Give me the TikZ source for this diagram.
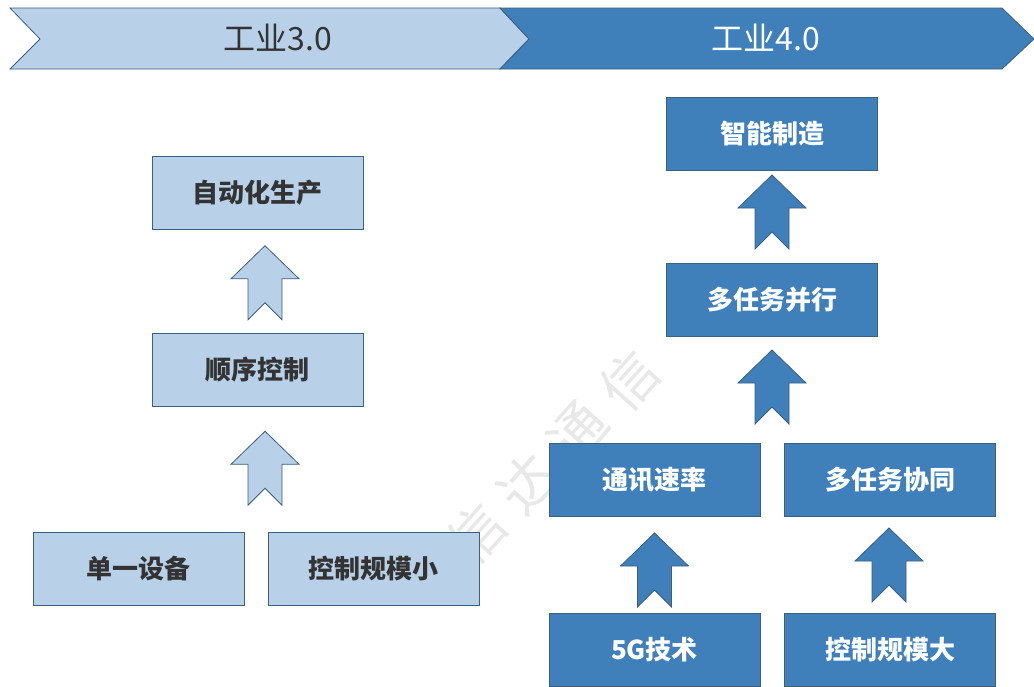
\documentclass[tikz,border=0pt]{standalone}
\usepackage{fontspec}
\setmainfont{Noto Sans CJK SC}
\usetikzlibrary{calc}
\definecolor{lightfill}{HTML}{B8D1E8}
\definecolor{darkfill}{HTML}{3F80BA}
\definecolor{edgecol}{HTML}{3D5F7E}
\definecolor{txtgray}{HTML}{333333}
\definecolor{wmgray}{HTML}{E8E8E8}
\begin{document}
\begin{tikzpicture}[x=1pt,y=-1pt,
  box/.style={draw=edgecol, line width=0.8pt, minimum width=211pt, minimum height=73pt,
    inner sep=0pt, font=\fontsize{26}{28}\selectfont\bfseries},
  lightbox/.style={box, fill=lightfill, text=txtgray},
  darkbox/.style={box, fill=darkfill, text=white},
  lightarr/.style={draw=edgecol, fill=lightfill, line width=0.8pt},
  darkarr/.style={draw=edgecol, fill=darkfill, line width=0.8pt},
  uparr/.pic={\path[pic actions] (0,-37) -- (34,-4) -- (17,-4) -- (17,37) -- (0,20)
      -- (-17,37) -- (-17,-4) -- (-34,-4) -- cycle;},
  chev/.style={draw=edgecol, line width=0.8pt},
  title/.style={font=\fontsize{32}{34}\selectfont, inner sep=0pt},
  wm/.style={rotate=48, text=wmgray, inner sep=0pt, font=\fontsize{56}{60}\selectfont}
]
\useasboundingbox (0,0) rectangle (1034,686);
\fill[white] (0,0) rectangle (1034,686);

% watermark
\node[wm] (wm1) at (476,534) {信};
\node[wm] (wm2) at (527,483) {达};
\node[wm] (wm3) at (578,432) {通};
\node[wm] (wm4) at (629,381) {信};

% chevrons
\path[chev, fill=lightfill] (10,8) -- (500,8) -- (529,39) -- (500,69) -- (10,69) -- (40,39) -- cycle;
\path[chev, fill=darkfill] (500,8) -- (1002,8) -- (1034,39) -- (1002,69) -- (500,69) -- (529,39) -- cycle;
\node[title, text=txtgray] (t3) at (278,38) {工业3.0};
\node[title, text=white] (t4) at (766,38) {工业4.0};

% left column
\node[lightbox] (auto) at (257.5,193) {自动化生产};
\node[lightbox] (seq)  at (257.5,369.5) {顺序控制};
\node[lightbox] (single) at (138.5,569) {单一设备};
\node[lightbox] (small) at (373.5,569) {控制规模小};

% right column
\node[darkbox] (smart) at (772,134) {智能制造};
\node[darkbox] (para)  at (772,300) {多任务并行};
\node[darkbox] (comm)  at (654.5,480) {通讯速率};
\node[darkbox] (coop)  at (890,480) {多任务协同};
\node[darkbox] (fiveg) at (654.5,650) {5G技术};
\node[darkbox] (large) at (890,650) {控制规模大};

% block arrows
\pic[lightarr] at ($(auto.south)!0.5!(seq.north)+(7.5,1.5)$) {uparr};
\pic[lightarr] at ($(seq.south)!0.5!(seq.south|-single.north)+(7.5,-1)$) {uparr};
\pic[darkarr] at ($(smart.south)!0.5!(para.north)+(0,-5)$) {uparr};
\pic[darkarr] at ($(para.south)!0.5!(para.south|-comm.north)+(0,-3)$) {uparr};
\pic[darkarr] at ($(comm.south)!0.5!(fiveg.north)+(0,5)$) {uparr};
\pic[darkarr] at ($(coop.south)!0.5!(large.north)+(-1,0)$) {uparr};
\end{tikzpicture}
\end{document}
